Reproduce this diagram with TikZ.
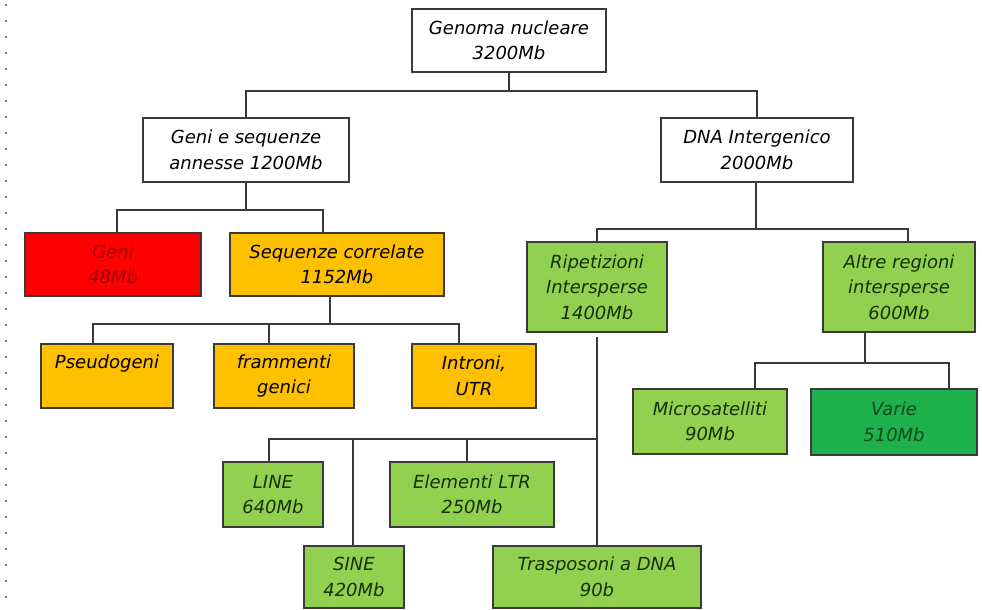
\documentclass[tikz,border=0pt]{standalone}
\usepackage{fontspec}
\setmainfont{DejaVu Sans}
\definecolor{Edge}{HTML}{3A3A3A}
\definecolor{GeneFill}{HTML}{FF0000}
\definecolor{GeneText}{HTML}{A00000}
\definecolor{Linked}{HTML}{FFC000}
\definecolor{Leaf}{HTML}{92D050}
\definecolor{LeafText}{HTML}{16300B}
\definecolor{Deep}{HTML}{1DB04B}
\definecolor{DeepText}{HTML}{0B4A1C}
\definecolor{Dots}{HTML}{22B14C}
\tikzset{
  box/.style={draw=Edge,fill=white,line width=1.8pt,align=center,inner sep=0pt,font=\fontsize{18}{25.5}\selectfont\itshape},
  genebox/.style={box,fill=GeneFill,text=GeneText},
  linkbox/.style={box,fill=Linked},
  leafbox/.style={box,fill=Leaf,text=LeafText},
  deepbox/.style={box,fill=Deep,text=DeepText},
  link/.style={draw=Edge,line width=1.8pt},
  border/.style={draw=Dots,line width=1.8pt,dash pattern=on 2pt off 14pt}
}

\begin{document}
\begin{tikzpicture}[x=1pt,y=-1pt]
  \useasboundingbox[fill=white] (0,0) rectangle (982,610);
  \draw[border] (6,4) -- (6,610);

  % top levels
  \node[box,minimum width=194pt,minimum height=63pt] (genoma) at (509,40.5) {Genoma nucleare\\3200Mb};
  \node[box,minimum width=206pt,minimum height=64pt] (geniseq) at (246,150) {Geni e sequenze\\annesse 1200Mb};
  \node[box,minimum width=192pt,minimum height=64pt] (dnaint) at (757,150) {DNA Intergenico\\2000Mb};
  \draw[link] (genoma.south) -- ++(0,18) -| (geniseq.north);
  \draw[link] (genoma.south) -- ++(0,18) -| (dnaint.north);

  % geni e sequenze annesse
  \node[genebox,minimum width=176pt,minimum height=63pt] (geni) at (113,264.5) {Geni\\48Mb};
  \node[linkbox,minimum width=214pt,minimum height=63pt] (seqcorr) at (337,264.5) {Sequenze correlate\\1152Mb};
  \draw[link] (geniseq.south) -- ++(0,27) -| ([xshift=4pt]geni.north);
  \draw[link] (geniseq.south) -- ++(0,27) -| ([xshift=-14pt]seqcorr.north);

  \node[linkbox,minimum width=132pt,minimum height=64pt] (pseudo) at (107,376) {Pseudogeni\\\phantom{g}};
  \node[linkbox,minimum width=140pt,minimum height=64pt] (framm) at (284,376) {frammenti\\genici};
  \node[linkbox,minimum width=124pt,minimum height=64pt] (introni) at (474,376) {Introni,\\UTR};
  \draw[link] ([xshift=-7pt]seqcorr.south) -- ++(0,27) -| ([xshift=-14pt]pseudo.north);
  \draw[link] ([xshift=-7pt]seqcorr.south) -- ++(0,27) -| ([xshift=-15pt]framm.north);
  \draw[link] ([xshift=-7pt]seqcorr.south) -- ++(0,27) -| ([xshift=-15pt]introni.north);

  % DNA intergenico
  \node[leafbox,minimum width=140pt,minimum height=90pt] (ripet) at (597,287) {Ripetizioni\\Intersperse\\1400Mb};
  \node[leafbox,minimum width=152pt,minimum height=90pt] (altre) at (899,287) {Altre regioni\\intersperse\\600Mb};
  \draw[link] ([xshift=-1pt]dnaint.south) -- ++(0,46) -| (ripet.north);
  \draw[link] ([xshift=-1pt]dnaint.south) -- ++(0,46) -| ([xshift=9pt]altre.north);

  \node[leafbox,minimum width=154pt,minimum height=65pt] (micro) at (710,421.5) {Microsatelliti\\90Mb};
  \node[deepbox,minimum width=166pt,minimum height=66pt] (varie) at (894,422) {Varie\\510Mb};
  \draw[link] ([xshift=-34pt]altre.south) -- ++(0,30) -| ([xshift=45pt]micro.north);
  \draw[link] ([xshift=-34pt]altre.south) -- ++(0,30) -| ([xshift=55pt]varie.north);

  % ripetizioni intersperse
  \node[leafbox,minimum width=100pt,minimum height=65pt] (line) at (273,494.5) {LINE\\640Mb};
  \node[leafbox,minimum width=164pt,minimum height=65pt] (elem) at (472,494.5) {Elementi LTR\\250Mb};
  \node[leafbox,minimum width=100pt,minimum height=62pt] (sine) at (354,577) {SINE\\420Mb};
  \node[leafbox,minimum width=208pt,minimum height=62pt] (trasp) at (597,577) {Trasposoni a DNA\\90b};
  \draw[link] ([yshift=-4pt]ripet.south) -- (trasp.north);
  \draw[link] ([yshift=-4pt]ripet.south) -- ++(0,102) -| ([xshift=-4pt]line.north);
  \draw[link] ([yshift=-4pt]ripet.south) -- ++(0,102) -| ([xshift=-1pt]sine.north);
  \draw[link] ([yshift=-4pt]ripet.south) -- ++(0,102) -| ([xshift=-5pt]elem.north);
\end{tikzpicture}
\end{document}
